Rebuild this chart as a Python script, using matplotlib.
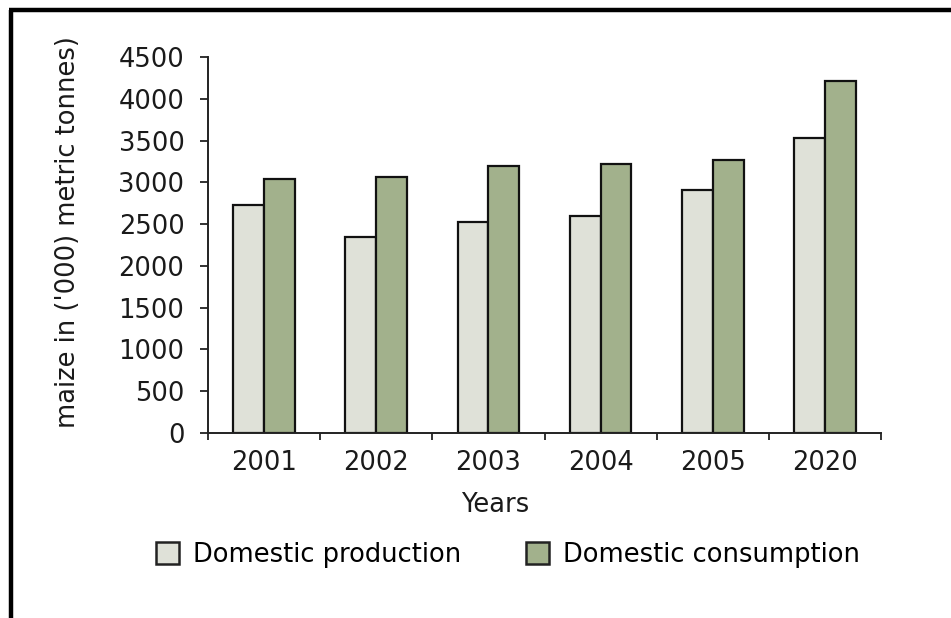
import matplotlib
matplotlib.use("Agg")
import matplotlib.pyplot as plt
from matplotlib.lines import Line2D
from matplotlib.patches import Patch
import numpy as np

plt.rcParams['font.family'] = ['DejaVu Sans']

years = ["2001", "2002", "2003", "2004", "2005", "2020"]
production = [2730, 2340, 2530, 2600, 2910, 3530]
consumption = [3040, 3060, 3200, 3220, 3270, 4210]
yticks = [0, 500, 1000, 1500, 2000, 2500, 3000, 3500, 4000, 4500]
series_names = ["Domestic production", "Domestic consumption"]
colors = ["#DFE1D8", "#A2B18C"]

FS = 18.5
TXT = "#1a1a1a"

fig = plt.figure(figsize=(9.51, 6.18), dpi=100)
ax = fig.add_axes([208/951, 1-433/618, (881-208)/951, (433-57)/618])

x = np.arange(len(years))
w = 0.275
ax.bar(x - w/2, production, width=w, color=colors[0], edgecolor="#111111", linewidth=1.6)
ax.bar(x + w/2, consumption, width=w, color=colors[1], edgecolor="#111111", linewidth=1.6)

ax.set_xlim(-0.5, len(years) - 0.5)
ax.set_ylim(0, 4500)
ax.set_yticks(yticks)
ax.set_yticklabels([str(v) for v in yticks], fontsize=FS, color=TXT)
ax.set_xticks(x)
ax.set_xticklabels(years, fontsize=FS, color=TXT)
ax.set_xticks(np.arange(-0.5, len(years)), minor=True)
ax.tick_params(axis='x', which='major', length=0, pad=12)
ax.tick_params(axis='x', which='minor', length=5, width=1.3, color="#222222")
ax.tick_params(axis='y', which='major', length=6, width=1.3, color="#222222", pad=11)

for s in ["top", "right"]:
    ax.spines[s].set_visible(False)
for s in ["left", "bottom"]:
    ax.spines[s].set_linewidth(1.4)
    ax.spines[s].set_color("#222222")

fig.text(68/951, 1-232/618, "maize in ('000) metric tonnes)", fontsize=FS, color=TXT,
         rotation=90, ha="center", va="center")
fig.text(495/951, 1-505/618, "Years", fontsize=FS, color=TXT, ha="center", va="center")

handles = [Patch(facecolor=c, edgecolor="#222222", linewidth=1.8) for c in colors]
fig.legend(handles, series_names, loc="center", bbox_to_anchor=(508/951, 1-555/618),
           ncol=2, frameon=False, fontsize=FS, handlelength=0.9, handleheight=0.95,
           handletextpad=0.55, columnspacing=2.5, borderpad=0, borderaxespad=0)

fig.add_artist(Line2D([9/951, 1], [1-10/618, 1-10/618], transform=fig.transFigure,
                      color="black", linewidth=3.2, solid_capstyle="butt"))
fig.add_artist(Line2D([11/951, 11/951], [0, 1-10/618], transform=fig.transFigure,
                      color="black", linewidth=3.2, solid_capstyle="butt"))

fig.savefig("out.png", dpi=100)
